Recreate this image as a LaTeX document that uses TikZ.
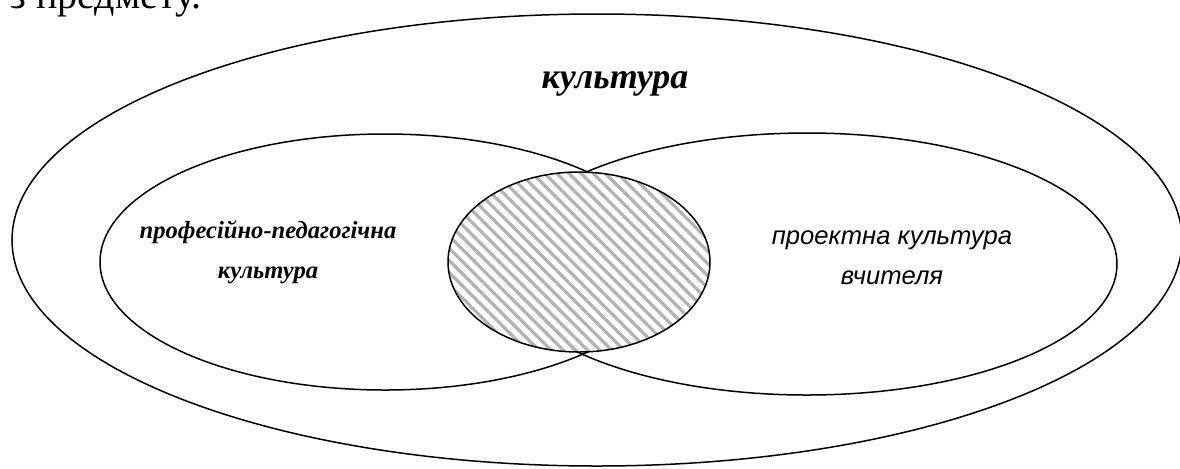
\documentclass[tikz,border=0pt]{standalone}
\usepackage{fontspec}
\setmainfont{Liberation Serif}
\newfontfamily\labelsans{Liberation Sans}
\usepackage{tikz}
\usetikzlibrary{shapes.geometric,patterns.meta}

\tikzset{
  ring/.style={draw, ellipse, line width=0.75pt, inner sep=0pt, outer sep=0pt},
  hatched/.style={ring, preaction={fill=white}, pattern={Lines[angle=-45, distance=4.3pt, line width=1.6pt]}, pattern color=black!30}
}

\begin{document}
\begin{tikzpicture}[x=0.5pt, y=-0.5pt]
\useasboundingbox (0,0) rectangle (1180,468);
\clip (0,0) rectangle (1180,468);

% text cut off at the top of the page
\node[anchor=base west, inner sep=0pt, font=\fontsize{20}{22}\selectfont] (prev) at (10,8) {з предмету.};

% outer field
\node[ring, minimum width=585pt, minimum height=226pt] (outer) at (597,240) {};
\node[font=\fontsize{18}{20}\selectfont\bfseries\itshape] (culture) at (615,84) {культура};

% two overlapping fields
\node[ring, minimum width=285pt, minimum height=128pt] (prof) at (385,262) {};
\node[ring, minimum width=310pt, minimum height=131pt] (design) at (807,264) {};

% common part
\node[hatched, minimum width=131pt, minimum height=90pt] (common) at (579,262) {};

% labels
\node[align=center, font=\fontsize{12.3}{20}\selectfont\bfseries\itshape] (proflabel) at (268,252) {професійно-педагогічна\\культура};
\node[align=center, font=\fontsize{12.8}{20}\labelsans\itshape] (designlabel) at (892,258) {проектна культура\\вчителя};
\end{tikzpicture}
\end{document}
